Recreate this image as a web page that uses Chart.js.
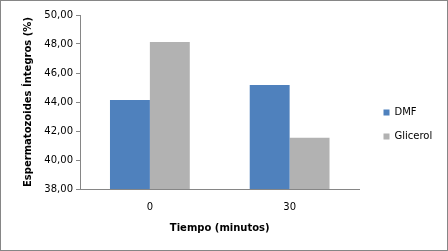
<!DOCTYPE html>
<html>
<head>
<meta charset="utf-8">
<script src="https://cdn.jsdelivr.net/npm/chart.js@4"></script>
<style>
  html, body { margin: 0; padding: 0; background: #fff; }
  #wrap { width: 448px; height: 251px; box-sizing: border-box; border: 1px solid #868686; background: #fff; }
  canvas { display: block; }
</style>
</head>
<body>
<div id="wrap"><canvas id="chart" width="446" height="249"></canvas></div>
<script>
  const categories = ['0', '30'];
  const dmfValues = [44.14, 45.17];
  const glicerolValues = [48.14, 41.54];
  const seriesNames = ['DMF', 'Glicerol'];
  const yTicks = [38, 40, 42, 44, 46, 48, 50];

  const axisColor = '#868686';
  const textColor = '#000';

  new Chart(document.getElementById('chart'), {
    type: 'bar',
    data: {
      labels: categories,
      datasets: [
        { label: seriesNames[0], data: dmfValues, backgroundColor: '#4F81BD' },
        { label: seriesNames[1], data: glicerolValues, backgroundColor: '#B2B2B2' }
      ]
    },
    options: {
      responsive: false,
      animation: false,
      devicePixelRatio: 1,
      categoryPercentage: 0.571,
      barPercentage: 1.0,
      layout: { padding: { left: 21, top: 14, right: 8, bottom: 16 } },
      plugins: {
        tooltip: { enabled: false },
        legend: {
          position: 'right',
          labels: {
            boxWidth: 6,
            boxHeight: 6,
            padding: 14,
            color: textColor,
            font: { family: 'DejaVu Sans', size: 10 }
          }
        }
      },
      scales: {
        x: {
          afterFit: function (s) { s.height = 45; },
          grid: { display: true, drawOnChartArea: false, drawTicks: false },
          border: { display: true, color: axisColor },
          ticks: { padding: 12, color: textColor, font: { family: 'DejaVu Sans', size: 10 } },
          title: {
            display: true,
            text: 'Tiempo (minutos)',
            color: textColor,
            font: { family: 'DejaVu Sans', size: 10, weight: 'bold' },
            padding: { top: 4, bottom: 0 }
          }
        },
        y: {
          min: yTicks[0],
          max: yTicks[yTicks.length - 1],
          afterFit: function (s) { s.width = 58; },
          afterBuildTicks: function (s) { s.ticks = yTicks.map(function (v) { return { value: v }; }); },
          grid: { display: true, drawOnChartArea: false, drawTicks: true, tickLength: 4, color: axisColor },
          border: { display: true, color: axisColor },
          ticks: {
            padding: 3,
            color: textColor,
            font: { family: 'DejaVu Sans', size: 10 },
            callback: function (v) { return v.toFixed(2).replace('.', ','); }
          },
          title: {
            display: true,
            text: 'Espermatozoides Íntegros (%)',
            color: textColor,
            font: { family: 'DejaVu Sans', size: 10, weight: 'bold' },
            padding: { top: 0, bottom: 0 }
          }
        },
        // empty spacer between plot and legend
        gap: {
          type: 'linear',
          position: 'right',
          display: true,
          afterFit: function (s) { s.width = 10; },
          grid: { display: false },
          border: { display: false },
          ticks: { display: false }
        }
      }
    }
  });
</script>
</body>
</html>
